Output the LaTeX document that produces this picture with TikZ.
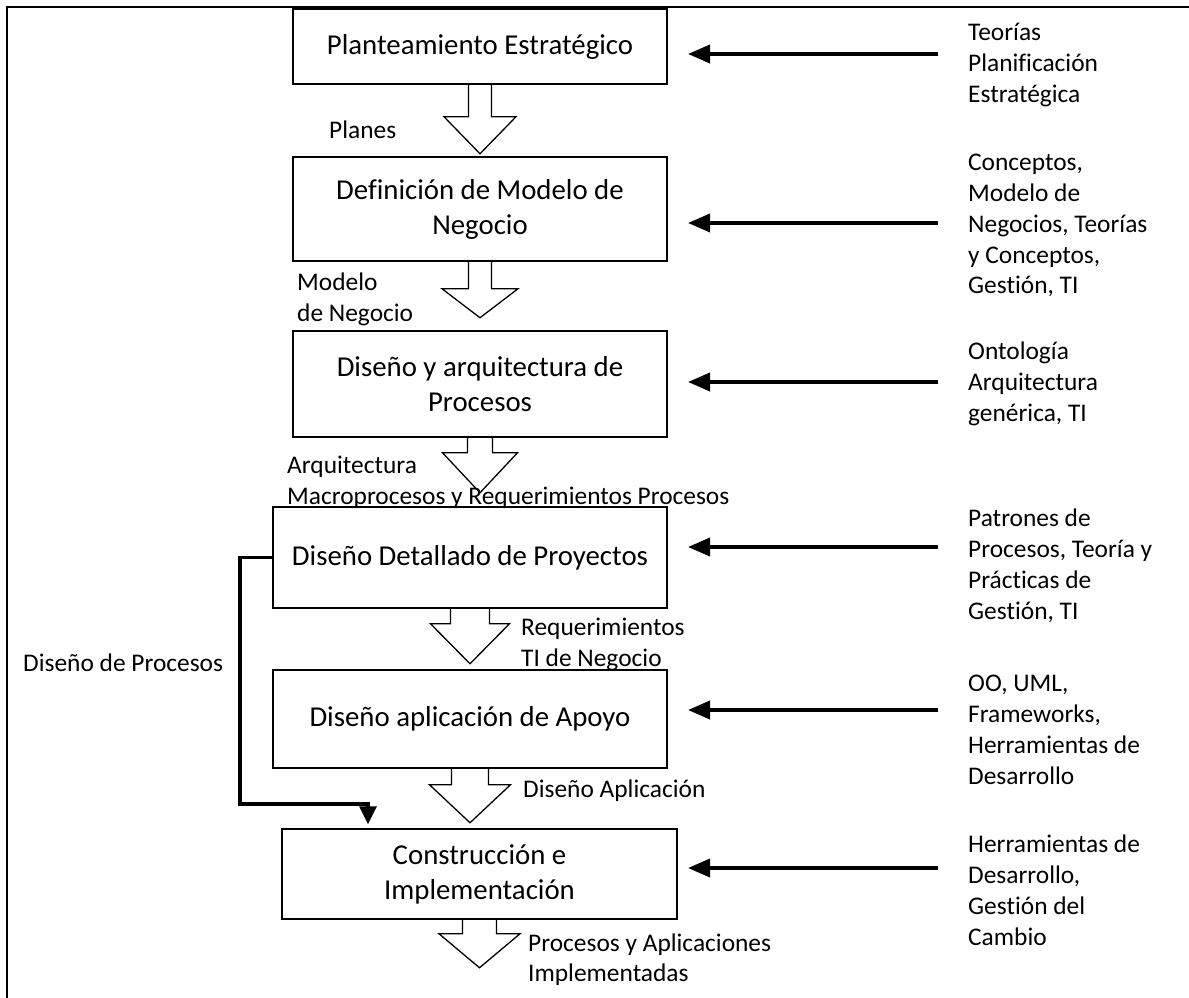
\documentclass[tikz,border=0pt]{standalone}
\usepackage{fontspec}
\setmainfont{Carlito}[Ligatures=NoCommon]
\usetikzlibrary{arrows.meta,calc}

% hollow block arrow hanging from a box: start point, shaft half width,
% shaft length, head half width, head length
\newcommand{\hollowdown}[5]{%
  \draw[hollow] ($(#1)+(-#2,0)$) -- ++(0,#3) -- ++(#2-#4,0) -- ++(#4,#5)
    -- ++(#4,-#5) -- ++(#2-#4,0) -- ++(0,-#3);}

\begin{document}
\begin{tikzpicture}[x=1pt,y=-1pt,
  stage/.style={draw,line width=1.5pt,inner sep=0pt,align=center,
    font=\fontsize{28.8}{35}\selectfont},
  note/.style={anchor=north west,inner sep=0pt,align=left,
    font=\fontsize{25.4}{30.7}\selectfont},
  hollow/.style={draw,line width=1.3pt,line join=miter},
  feed/.style={line width=3.6pt,-{Triangle[length=22pt,width=18pt]}},
  loopback/.style={line width=3.4pt,-{Triangle[length=18pt,width=17pt]}},
  ]
\useasboundingbox (0,0) rectangle (1189,998);

% outer frame
\draw[line width=2.2pt] (7,1000) -- (7,7) -- (1192,7);

% process stages
\node[stage,minimum width=374pt,minimum height=75pt]  (b1) at (480,46.5)
  {Planteamiento Estratégico};
\node[stage,minimum width=374pt,minimum height=104pt] (b2) at (480,209)
  {Definición de Modelo de\\Negocio};
\node[stage,minimum width=374pt,minimum height=106pt] (b3) at (480,384)
  {Diseño y arquitectura de\\Procesos};
\node[stage,minimum width=394pt,minimum height=101pt] (b4) at (470,557.5)
  {Diseño Detallado de Proyectos};
\node[stage,minimum width=394pt,minimum height=98pt]  (b5) at (470,719)
  {Diseño aplicación de Apoyo};
\node[stage,minimum width=395pt,minimum height=90pt]  (b6) at (479.5,874)
  {Construcción e\\Implementación};

% flow between stages
\hollowdown{b1.south}{11.5}{32}{36}{37}
\hollowdown{b2.south}{11.5}{27}{38}{29}
\hollowdown{b3.south}{12.5}{15}{37.5}{40}
\hollowdown{b4.south}{19.5}{15}{39.5}{40}
\hollowdown{b5.south}{18.5}{16}{40.5}{38}
\hollowdown{b6.south}{17}{14}{40.5}{34}

% outputs of each stage
\node[note] (o1) at (329,117.3) {\strut Planes};
\node[note] (o2) at (297,269.3) {\strut Modelo\\de Negocio};
\node[note] (o3) at (287,452.3) {\strut Arquitectura\\Macroprocesos y Requerimientos Procesos};
\node[note] (o4) at (521,614.3) {\strut Requerimientos\\TI de Negocio};
\node[note] (o5) at (523,776.3) {\strut Diseño Aplicación};
\node[note] (o6) at (528,929.3) {\strut Procesos y Aplicaciones\\Implementadas};

% inputs on the right
\node[note] (i1) at (968,19.3)  {\strut Teorías\\Planificación\\Estratégica};
\node[note] (i2) at (968,149.3) {\strut Conceptos,\\Modelo de\\Negocios, Teorías\\y Conceptos,\\Gestión, TI};
\node[note] (i3) at (968,338.3) {\strut Ontología\\Arquitectura\\genérica, TI};
\node[note] (i4) at (968,505.3) {\strut Patrones de\\Procesos, Teoría y\\Prácticas de\\Gestión, TI};
\node[note] (i5) at (968,670.3) {\strut OO, UML,\\Frameworks,\\Herramientas de\\Desarrollo};
\node[note] (i6) at (968,831.3) {\strut Herramientas de\\Desarrollo,\\Gestión del\\Cambio};

\coordinate (tip) at (688,0);
\coordinate (s1) at (938,54);
\coordinate (s2) at (938,223);
\coordinate (s3) at (938,382);
\coordinate (s4) at (938,547);
\coordinate (s5) at (938,710);
\coordinate (s6) at (938,868);
\foreach \s in {s1,s2,s3,s4,s5,s6}
  \draw[feed] (\s) -- (\s -| tip);

% process design shortcut to construction
\node[note] (lp) at (23,650.3) {\strut Diseño de Procesos};
\coordinate (lx) at (240,0);
\coordinate (bend) at (368,804);
\draw[loopback,line join=miter] (b4.west) -| (lx |- bend) -- (bend)
  -- ($(bend |- b6.north)+(0,-4)$);
\end{tikzpicture}
\end{document}
